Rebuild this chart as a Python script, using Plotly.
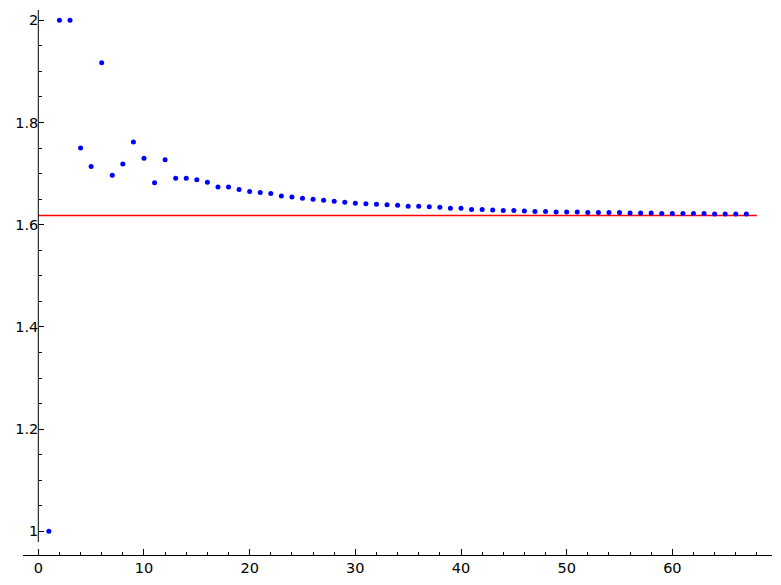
import plotly.graph_objects as go

n_values = list(range(1, 68))
ratio_values = [
    1.0, 2.0, 2.0, 1.75, 1.714, 1.917, 1.697, 1.719, 1.762, 1.730,
    1.682, 1.727, 1.691, 1.691, 1.688, 1.683, 1.674, 1.674, 1.669, 1.665,
    1.663, 1.661, 1.656, 1.654, 1.652, 1.650, 1.648, 1.646, 1.644, 1.642,
    1.641, 1.640, 1.639, 1.638, 1.636, 1.636, 1.635, 1.634, 1.632, 1.632,
    1.630, 1.630, 1.629, 1.628, 1.628, 1.627, 1.626, 1.626, 1.625, 1.625,
    1.625, 1.624, 1.624, 1.624, 1.624, 1.623, 1.623, 1.623, 1.622, 1.622,
    1.622, 1.622, 1.622, 1.621, 1.621, 1.621, 1.621,
]
golden_ratio = (1 + 5 ** 0.5) / 2
line_x = [0, 68]
x_tick_vals = [0, 10, 20, 30, 40, 50, 60]
y_tick_vals = [1, 1.2, 1.4, 1.6, 1.8, 2]
y_tick_text = ["1", "1.2", "1.4", "1.6", "1.8", "2"]

fig = go.Figure()
fig.add_trace(go.Scatter(
    x=line_x, y=[golden_ratio] * len(line_x), mode="lines",
    line=dict(color="rgb(255,0,0)", width=1.3), showlegend=False, hoverinfo="skip",
))
fig.add_trace(go.Scatter(
    x=n_values, y=ratio_values, mode="markers",
    marker=dict(color="#0000ff", size=5, line=dict(width=0)),
    showlegend=False,
))

# page body has an 8px margin; figure sized so no scrollbars appear
W, H = 765, 569
ml, mr, mt, mb = 15, 1, 2, 22
plot_w = W - ml - mr
plot_h = H - mt - mb
fig.update_layout(
    width=W, height=H,
    margin=dict(l=ml, r=mr, t=mt, b=mb, autoexpand=False),
    paper_bgcolor="white", plot_bgcolor="white",
    font=dict(family="DejaVu Sans, Bitstream Vera Sans, sans-serif", size=14.5, color="black"),
    xaxis=dict(
        range=[-1.448, 69.43], showgrid=False, zeroline=False, automargin=False,
        showline=True, linecolor="black", linewidth=1,
        tickmode="array", tickvals=x_tick_vals,
        ticks="inside", ticklen=6, tickcolor="black", tickwidth=1,
        minor=dict(dtick=2, tick0=0, ticks="inside", ticklen=3,
                   tickcolor="black", tickwidth=1, showgrid=False),
    ),
    yaxis=dict(
        range=[0.9536, 2.0202], showgrid=False, zeroline=False, automargin=False,
        showline=False, anchor="free", position=(1.448 / (69.43 + 1.448)),
        tickmode="array", tickvals=y_tick_vals, ticktext=y_tick_text,
        ticks="inside", ticklen=5, tickcolor="black", tickwidth=1,
        minor=dict(dtick=0.05, tick0=1, ticks="inside", ticklen=3,
                   tickcolor="black", tickwidth=1, showgrid=False),
    ),
    shapes=[dict(
        type="line", xref="x", yref="paper", x0=0, x1=0,
        y0=13 / plot_h, y1=1,
        line=dict(color="black", width=1),
    )],
)

fig.write_html("out.html")
